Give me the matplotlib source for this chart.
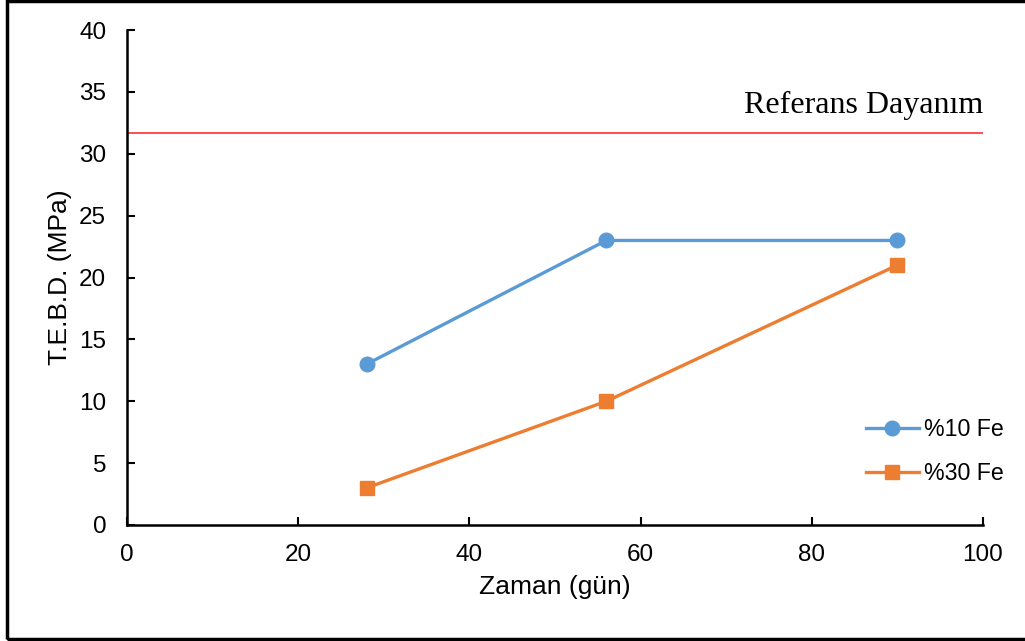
import matplotlib.pyplot as plt
from matplotlib.patches import Rectangle

# strength vs. curing time
days = [28, 56, 90]
fe10 = [13, 23, 23]
fe30 = [3, 10, 21]
ref_strength = 31.7

blue = '#5B9BD5'
orange = '#ED7D31'

plt.rcParams['font.family'] = ['Liberation Sans', 'DejaVu Sans']

fig = plt.figure(figsize=(10.25, 6.41), dpi=100)
ax = fig.add_axes([0.1239, 0.181, 0.835, 0.772])

ax.plot(days, fe10, color=blue, lw=2.4, marker='o', ms=10.5, label='%10 Fe')
ax.plot(days, fe30, color=orange, lw=2.4, marker='s', ms=10, label='%30 Fe')
ax.axhline(ref_strength, color='#FF4D4D', lw=1.4)
ax.text(100, ref_strength + 1.05, 'Referans Dayanım', ha='right', va='bottom',
        fontsize=23, family=['Liberation Serif', 'DejaVu Serif'])

ax.set_xlim(0, 100)
ax.set_ylim(0, 40)
ax.set_xticks(range(0, 101, 20))
ax.set_yticks(range(0, 41, 5))
ax.tick_params(direction='in', length=6, width=1.5, labelsize=17.5)
ax.tick_params(axis='y', pad=15)
ax.tick_params(axis='x', pad=14)
for s in ['top', 'right']:
    ax.spines[s].set_visible(False)
for s in ['left', 'bottom']:
    ax.spines[s].set_linewidth(1.8)

ax.set_xlabel('Zaman (gün)', fontsize=19, labelpad=6)
ax.set_ylabel('T.E.B.D. (MPa)', fontsize=19, labelpad=5)

ax.legend(loc='center left', bbox_to_anchor=(0.863, 0.148), frameon=False,
          borderpad=0, borderaxespad=0, fontsize=16.7, handlelength=2.3,
          handletextpad=0.2, labelspacing=0.9)

# outer frame round the whole chart
fig.patches.append(Rectangle((0.007, 0.003), 1.1, 0.995, transform=fig.transFigure,
                             fill=False, edgecolor='black', lw=2.5))

fig.savefig('out.png', dpi=100)
